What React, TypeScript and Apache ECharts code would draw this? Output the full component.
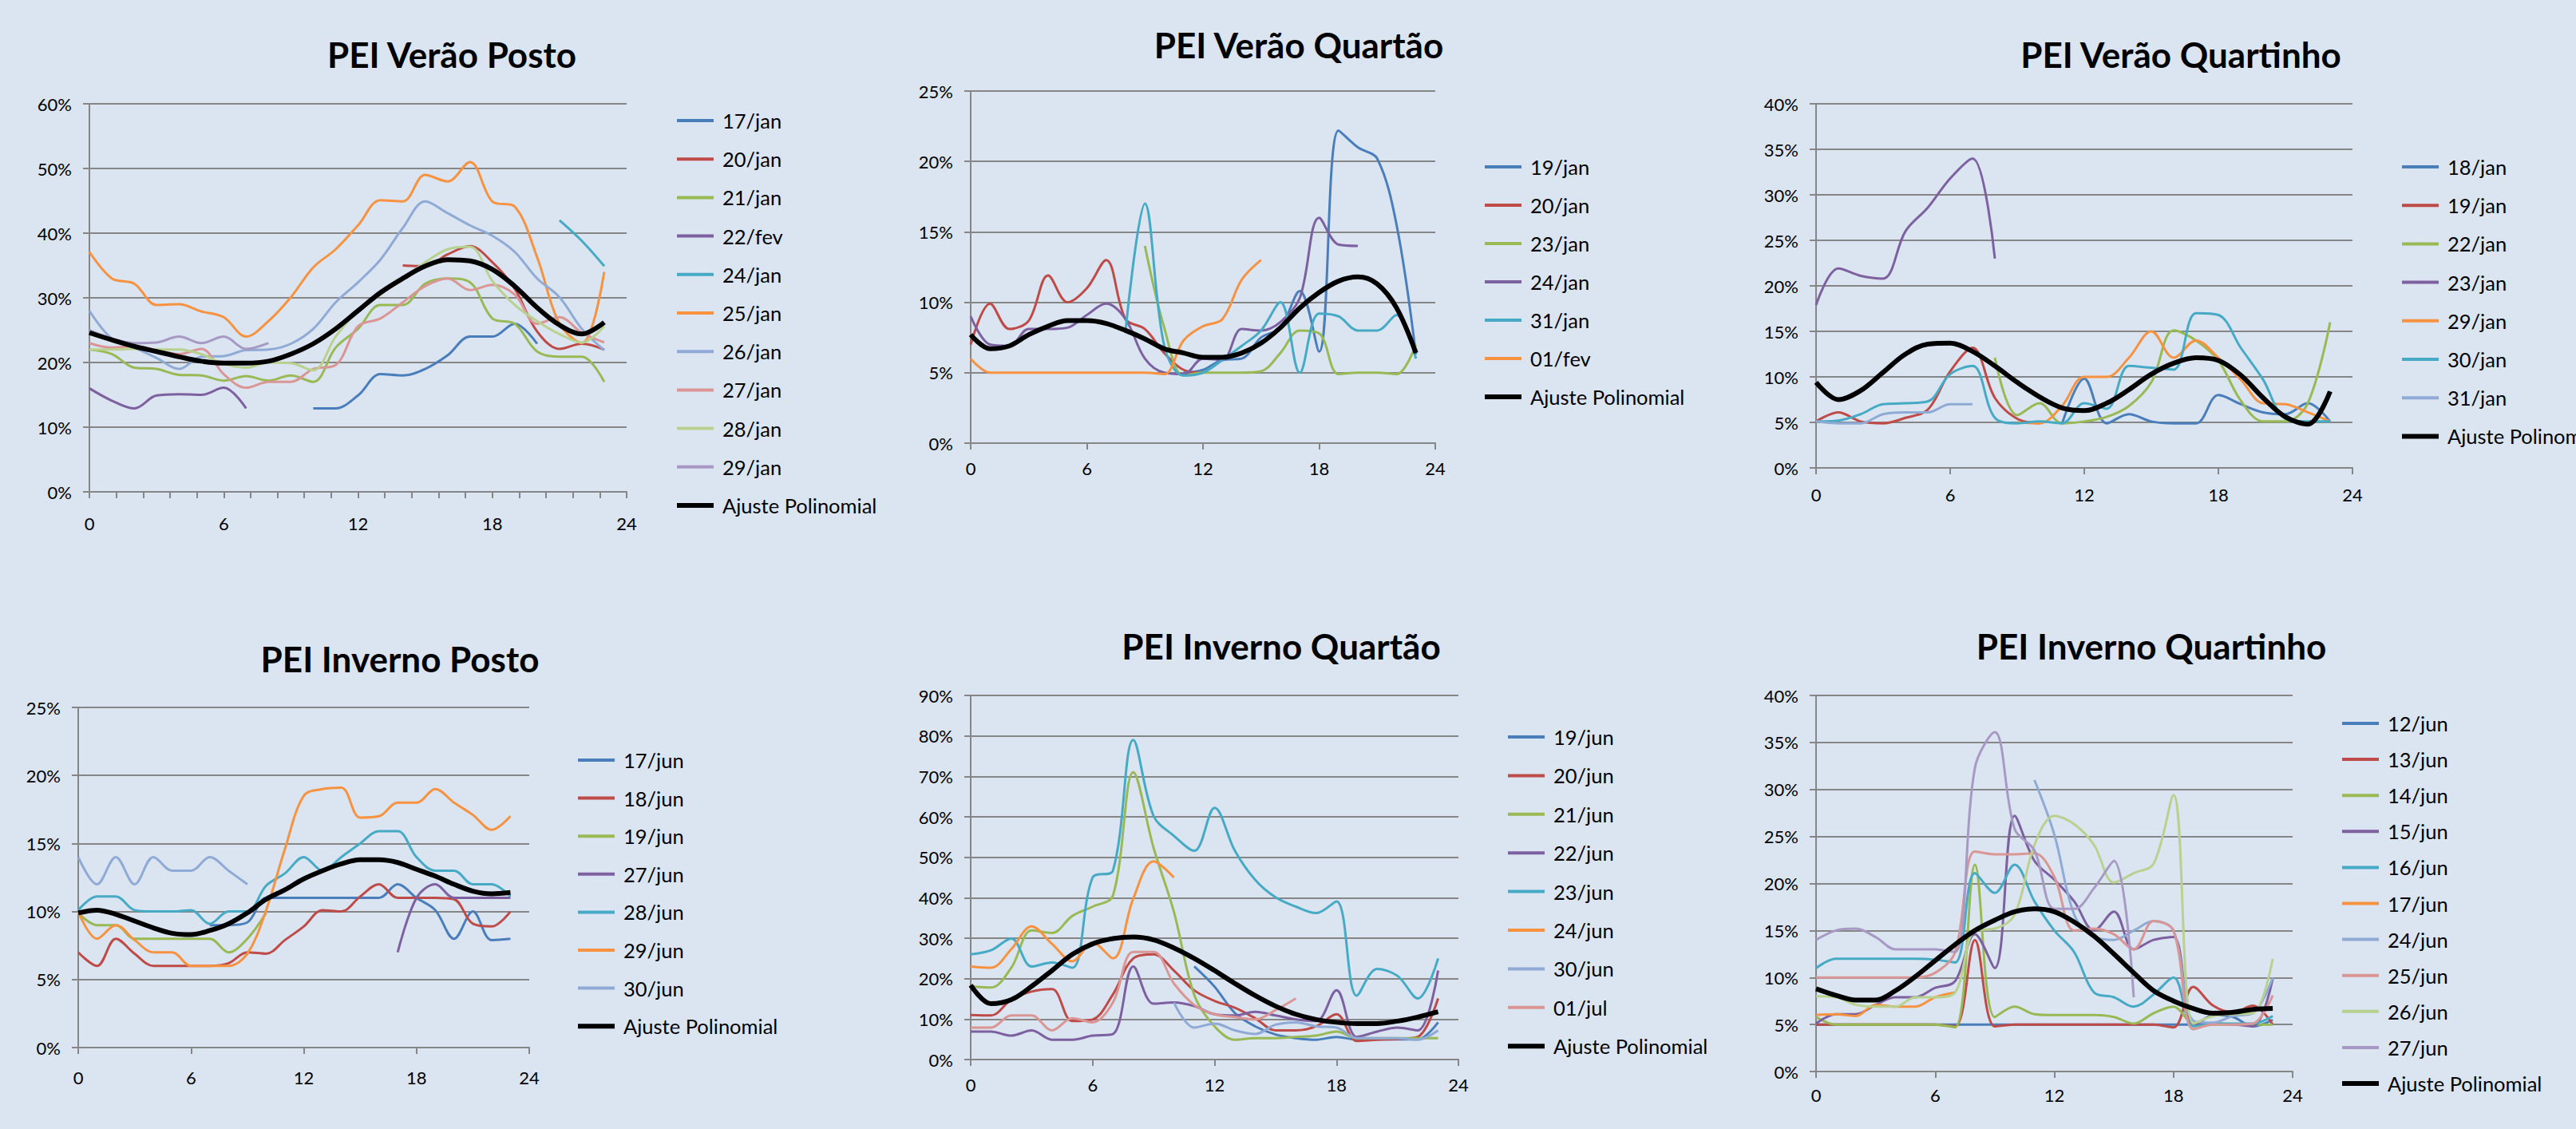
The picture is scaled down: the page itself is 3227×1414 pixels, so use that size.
import React, { useEffect, useRef } from "react";
import * as echarts from "echarts";

const _ = null;

// ---------- Panel 1: PEI Verão Posto ----------
const p1Names = ["17/jan", "20/jan", "21/jan", "22/fev", "24/jan", "25/jan", "26/jan", "27/jan", "28/jan", "29/jan", "Ajuste Polinomial"];
const v1_17jan = [_, _, _, _, _, _, _, _, _, _, 12.9, 12.9, 14.9, 18.2, 18, 19, 21.1, 24, 24, 26, 22.9, _, _, _];
const v1_20jan = [_, _, _, _, _, _, _, _, _, _, _, _, _, _, 35, 34.9, 36.7, 38, 35.5, 31.4, 24.8, 22.1, 22.9, 22];
const v1_21jan = [22, 21.3, 19.2, 19, 18.1, 18, 17.2, 17.9, 17.2, 18, 17, 22.3, 25.2, 28.9, 28.9, 32.2, 33, 32.4, 26.8, 26, 21.7, 20.9, 20.9, 17];
const v1_22fev = [16, 14.1, 12.9, 14.9, 15.1, 15, 16.1, 12.9, _, _, _, _, _, _, _, _, _, _, _, _, _, _, _, _];
const v1_24jan = [_, _, _, _, _, _, _, _, _, _, _, _, _, _, _, _, _, _, _, _, _, 42, 38.8, 34.9];
const v1_25jan = [37.1, 33, 32.2, 28.9, 29, 27.9, 27, 24, 26.4, 30.1, 34.7, 37.5, 41.2, 45.1, 44.9, 49, 48, 51, 44.9, 44.1, 36.3, 26, 23, 34];
const v1_26jan = [28, 23.7, 22.3, 20.7, 19, 20.9, 21, 21.9, 22, 22.9, 25.2, 29.3, 32.4, 35.9, 40.8, 44.9, 43.1, 41.2, 39.6, 37.1, 33, 30.1, 25.2, 21.9];
const v1_27jan = [23, 22.3, 22.5, 21.9, 21.3, 22.1, 18.2, 16.1, 17, 17, 19, 19.6, 25.6, 26.8, 29.3, 31.8, 33, 31.2, 32, 30.5, 26, 27, 24.6, 23.1];
const v1_28jan = [22, 22, 22.1, 22, 22, 21.3, 19.8, 19.2, 20, 19.9, 18.8, 24, 28, 30.5, 33, 35.5, 37.5, 37.9, 32.6, 28.9, 26.4, 24.4, 23.1, 25.6];
const v1_29jan = [25, 23.7, 23, 23.1, 24, 23, 24, 22.1, 23, _, _, _, _, _, _, _, _, _, _, _, _, _, _, _];
const v1_fit = [24.6, 23.5, 22.5, 21.7, 20.9, 20.2, 19.9, 19.9, 20.2, 21.3, 22.9, 25.2, 28, 30.8, 33, 34.9, 35.9, 35.7, 34.4, 31.8, 28.5, 25.8, 24.4, 26.2];

// ---------- Panel 2: PEI Verão Quartão ----------
const p2Names = ["19/jan", "20/jan", "23/jan", "24/jan", "31/jan", "01/fev", "Ajuste Polinomial"];
const v2_19jan = [_, _, _, _, _, _, _, _, _, _, _, 5, 5.2, 5.9, 6, 7.5, 8.2, 10.8, 6.5, 22.2, 21, 20.2, 15.5, 6.3];
const v2_20jan = [7, 9.9, 8.1, 8.7, 11.9, 10, 11, 13, 8.8, 8.1, 6.4, 5.2, 5, _, _, _, _, _, _, _, _, _, _, _];
const v2_23jan = [_, _, _, _, _, _, _, _, _, 14, 8.2, 4.8, 5, 5, 5, 5.1, 6.4, 8, 7.8, 4.9, 5, 5, 4.9, 7];
const v2_24jan = [9, 7, 6.9, 8.1, 8.1, 8.2, 9.1, 9.9, 8.8, 6, 5, 4.9, 6, 5.9, 8.1, 8, 8.6, 10.3, 16, 14.1, 14, _, _, _];
const v2_31jan = [_, _, _, _, _, _, _, _, 8, 17, 6.9, 4.8, 5, 5.9, 6.9, 8, 10, 5, 9.2, 9, 8, 8, 9.1, 6];
const v2_01fev = [6, 5, 5, 5, 5, 5, 5, 5, 5, 5, 4.9, 7.3, 8.3, 8.8, 11.6, 13, _, _, _, _, _, _, _, _];
const v2_fit = [7.7, 6.7, 6.9, 7.7, 8.3, 8.7, 8.7, 8.5, 8, 7.4, 6.7, 6.4, 6.1, 6.1, 6.4, 7.1, 8.2, 9.6, 10.7, 11.5, 11.8, 11.3, 9.6, 6.4];

// ---------- Panel 3: PEI Verão Quartinho ----------
const p3Names = ["18/jan", "19/jan", "22/jan", "23/jan", "29/jan", "30/jan", "31/jan", "Ajuste Polinomial"];
const v3_18jan = [_, _, _, _, _, _, _, _, _, _, _, 4.8, 9.8, 4.9, 5.9, 5.1, 4.9, 4.9, 8, 7, 6.1, 5.9, 7.1, 5.1];
const v3_19jan = [5.1, 6.1, 5.1, 4.9, 5.5, 6.4, 10.6, 13.2, 7.7, 5.4, 4.9, _, _, _, _, _, _, _, _, _, _, _, _, _];
const v3_22jan = [_, _, _, _, _, _, _, _, 12.1, 5.8, 7.1, 4.9, 5.1, 5.6, 6.8, 9.4, 15.1, 14, 11.8, 7.4, 5.1, 5.1, 7.1, 16];
const v3_23jan = [17.9, 21.9, 21.1, 20.8, 26, 28.6, 31.8, 34, 23, _, _, _, _, _, _, _, _, _, _, _, _, _, _, _];
const v3_29jan = [_, _, _, _, _, _, _, _, _, 5, 4.9, 6.8, 10, 10, 12.1, 15, 12.1, 14, 12.1, 9.7, 7.1, 7, 6.1, 5.1];
const v3_30jan = [5.1, 5.2, 5.9, 7, 7.1, 7.3, 10.3, 11.2, 5.5, 4.9, 5.1, 4.9, 7.1, 6.5, 11.2, 11, 10.8, 17, 16.8, 13.2, 9.7, 5.4, 5.1, 5.1];
const v3_31jan = [5.1, 4.9, 4.9, 5.9, 6.1, 6.1, 7, 7, _, _, _, _, _, _, _, _, _, _, _, _, _, _, _, _];
const v3_fit = [9.4, 7.5, 8.5, 10.5, 12.5, 13.6, 13.7, 12.8, 11.2, 9.4, 7.8, 6.6, 6.3, 7.1, 8.6, 10.3, 11.5, 12.1, 11.8, 10.2, 7.7, 5.6, 4.8, 8.4];

// ---------- Panel 4: PEI Inverno Posto ----------
const p4Names = ["17/jun", "18/jun", "19/jun", "27/jun", "28/jun", "29/jun", "30/jun", "Ajuste Polinomial"];
const v4_17jun = [_, _, _, _, _, _, _, 9, 9, 9.2, 11, 11, 11, 11, 11, 11, 11, 12, 11, 10.1, 8, 10, 7.9, 8];
const v4_18jun = [7, 6, 8, 6.9, 6, 6, 6, 6, 6.2, 7, 6.9, 7.9, 8.9, 10.1, 10, 11.1, 12, 11, 11, 11, 10.9, 9.1, 8.9, 10];
const v4_19jun = [9.9, 9, 9, 8, 8, 8, 8, 8, 7, 8, 9.9, _, _, _, _, _, _, _, _, _, _, _, _, _];
const v4_27jun = [_, _, _, _, _, _, _, _, _, _, _, _, _, _, _, _, _, 7, 11, 12, 11, 11, 11, 11];
const v4_28jun = [10.1, 11.1, 11.1, 10.1, 10, 10, 10.1, 9.1, 10, 10, 11.9, 12.8, 14, 13, 14, 15, 15.9, 15.9, 14, 13, 13, 12, 12, 11.1];
const v4_29jun = [10, 8, 9, 7.9, 7, 7, 6, 6, 6, 6.9, 10.1, 14.6, 18.5, 19, 19.1, 16.9, 17, 18, 18, 19, 18, 17.1, 16, 17];
const v4_30jun = [14, 12, 14, 12, 14, 13, 13, 14, 13, 12, _, _, _, _, _, _, _, _, _, _, _, _, _, _];
const v4_fit = [9.9, 10.1, 9.8, 9.3, 8.8, 8.4, 8.3, 8.6, 9.1, 9.9, 10.9, 11.6, 12.4, 13, 13.5, 13.8, 13.8, 13.6, 13.1, 12.6, 12, 11.5, 11.3, 11.4];

// ---------- Panel 5: PEI Inverno Quartão ----------
const p5Names = ["19/jun", "20/jun", "21/jun", "22/jun", "23/jun", "24/jun", "30/jun", "01/jul", "Ajuste Polinomial"];
const v5_19jun = [_, _, _, _, _, _, _, _, _, _, _, 23, 18, 11.5, 8.2, 6.2, 5.3, 4.9, 5.6, 4.9, 5, 5, 5, 9.2];
const v5_20jun = [11, 10.9, 14.8, 16.8, 17.4, 9.5, 9.9, 16.1, 25, 26, 22, 17.1, 14.5, 12.8, 10.2, 7.2, 7.2, 8.2, 11.2, 4.6, 4.9, 5.1, 5.6, 15.1];
const v5_21jun = [18.1, 17.8, 22.7, 31.9, 31.3, 35.5, 37.8, 40.5, 71, 52.3, 36.5, 16, 8.2, 4.9, 5.3, 5.3, 5.6, 5.9, 6.9, 5.3, 5.3, 5.3, 5.3, 5.3];
const v5_22jun = [6.9, 6.9, 5.9, 7.2, 4.9, 4.9, 5.9, 6.3, 23, 13.8, 14.1, 13.2, 11.2, 10.9, 11.8, 10.9, 9.9, 9.5, 17.1, 5.6, 6.9, 7.9, 7.2, 22];
const v5_23jun = [26, 27, 29.9, 23, 24, 22.7, 45, 46.7, 79, 60.2, 55.3, 51.6, 62.2, 51.6, 44.4, 40.1, 37.8, 36.2, 39.1, 15.8, 22.4, 20.7, 15.1, 25];
const v5_24jun = [23, 22.7, 27.3, 32.9, 28.6, 24.3, 28.9, 25, 39.8, 49, 45, _, _, _, _, _, _, _, _, _, _, _, _, _];
const v5_30jun = [_, _, _, _, _, _, _, _, _, _, 14.1, 7.9, 8.9, 7.2, 6.3, 8.6, 9.2, 8.2, 7.9, 5.3, 5.3, 5.3, 4.9, 7.2];
const v5_01jul = [7.9, 7.9, 10.9, 10.9, 7.2, 10.2, 9.2, 14.1, 26.6, 26.6, 18.8, 13.5, 11.2, 10.5, 9.9, 12.2, 15.1, _, _, _, _, _, _, _];
const v5_fit = [18.4, 13.8, 14.8, 18.1, 22, 26, 28.6, 29.9, 30.3, 29.6, 27.6, 25, 22, 18.8, 15.8, 13.2, 11.2, 9.9, 9.2, 8.9, 8.9, 9.5, 10.5, 11.8];

// ---------- Panel 6: PEI Inverno Quartinho ----------
const p6Names = ["12/jun", "13/jun", "14/jun", "15/jun", "16/jun", "17/jun", "24/jun", "25/jun", "26/jun", "27/jun", "Ajuste Polinomial"];
const v6_12jun = [5, 5, 5, 5, 5, 5, 5, 5, 5, 5, 5, 5, 5, 5, 5, 5, 5, 5, 5, 5, 6, 5.8, 4.8, 5.5];
const v6_13jun = [5, 5, 5, 5, 5, 5, 5, 4.8, 14, 4.8, 5, 5, 5, 5, 5, 5, 5, 5, 4.7, 9, 7, 6.3, 7, 5];
const v6_14jun = [5.8, 5, 5, 5, 5, 5, 5, 4.7, 22, 5.8, 6.9, 6.1, 6, 6, 6, 5.8, 5.1, 6.2, 6.9, 5.1, 5, 5, 5, 5];
const v6_15jun = [5.1, 6.1, 6.1, 7.1, 7.9, 7.9, 8.9, 9.6, 14.6, 11, 27.2, 22.4, 20.4, 18.1, 15, 17, 13, 14, 14.3, 5, 5.1, 5, 4.8, 9.9];
const v6_16jun = [11, 12, 12, 12, 12, 12, 11.9, 11.6, 21.1, 19, 22, 18.1, 15, 12.7, 8.4, 7.9, 6.9, 8.2, 10, 4.8, 5.1, 5.1, 5.1, 5.9];
const v6_17jun = [6, 6.1, 5.9, 7.1, 6.9, 6.9, 7.9, 8.4, _, _, _, _, _, _, _, _, _, _, _, _, _, _, _, _];
const v6_24jun = [_, _, _, _, _, _, _, _, _, _, _, 31, 25.2, 16.7, 14.3, 14, 15, 16, 15, 5.4, 5.2, 5.9, 6.2, 10];
const v6_25jun = [10, 10, 10, 10, 10, 10, 10.5, 12.7, 23.4, 23.1, 23.1, 23.2, 20.7, 15, 15.2, 14.6, 13, 16, 15, 4.5, 5, 5, 5.1, 8.1];
const v6_26jun = [8, 7.9, 7.1, 6.9, 6.9, 7.9, 7.9, 8.4, 15, 15.2, 16.7, 24.1, 27.2, 26.3, 24.1, 20.1, 21.1, 22.1, 29.4, 5.1, 5.9, 6.1, 6.2, 12];
const v6_27jun = [14, 15, 15.2, 14.3, 13, 13, 13, 12.7, 32.3, 36.1, 25.8, 23.5, 17.3, 17.3, 19.5, 22.4, 7.9, _, _, _, _, _, _, _];
const v6_fit = [8.8, 8.1, 7.6, 7.6, 8.6, 10.1, 11.8, 13.5, 15, 16.1, 17, 17.3, 17, 15.9, 14.4, 12.5, 10.5, 8.6, 7.5, 6.7, 6.2, 6.3, 6.6, 6.7];

// ---------- colours ----------
const C = {
  blue: "#4A7EBB",
  red: "#BE4B48",
  green: "#98B954",
  purple: "#7D60A0",
  teal: "#46AAC5",
  orange: "#F69240",
  lblue: "#8FAAD4",
  pink: "#D99694",
  lgreen: "#B9D18F",
  lpurple: "#A899C4",
  fit: "#000000",
};

const FONT = "Lato, 'Open Sans', 'Liberation Sans', sans-serif";
const BG = "#DBE5F1";
const GRID_COLOR = "#868686";

const panels = [
  {
    title: "PEI Verão Posto",
    names: p1Names,
    values: [v1_17jan, v1_20jan, v1_21jan, v1_22fev, v1_24jan, v1_25jan, v1_26jan, v1_27jan, v1_28jan, v1_29jan, v1_fit],
    colors: [C.blue, C.red, C.green, C.purple, C.teal, C.orange, C.lblue, C.pink, C.lgreen, C.lpurple, C.fit],
    yMax: 60, yStep: 10,
    grid: { left: 112, top: 130, width: 673, height: 486 },
    titlePos: [566, 68],
    legend: { left: 840, top: 131, gap: 18.2 },
    minor: true, xMargin: 28,
  },
  {
    title: "PEI Verão Quartão",
    names: p2Names,
    values: [v2_19jan, v2_20jan, v2_23jan, v2_24jan, v2_31jan, v2_01fev, v2_fit],
    colors: [C.blue, C.red, C.green, C.purple, C.teal, C.orange, C.fit],
    yMax: 25, yStep: 5,
    grid: { left: 1216, top: 114, width: 582, height: 441 },
    titlePos: [1627, 56],
    legend: { left: 1852, top: 189, gap: 18 },
    minor: false, xMargin: 20,
  },
  {
    title: "PEI Verão Quartinho",
    names: p3Names,
    values: [v3_18jan, v3_19jan, v3_22jan, v3_23jan, v3_29jan, v3_30jan, v3_31jan, v3_fit],
    colors: [C.blue, C.red, C.green, C.purple, C.orange, C.teal, C.lblue, C.fit],
    yMax: 40, yStep: 5,
    grid: { left: 2275, top: 130, width: 672, height: 456 },
    titlePos: [2732, 68],
    legend: { left: 3001, top: 189, gap: 18.2 },
    minor: false, xMargin: 22,
  },
  {
    title: "PEI Inverno Posto",
    names: p4Names,
    values: [v4_17jun, v4_18jun, v4_19jun, v4_27jun, v4_28jun, v4_29jun, v4_30jun, v4_fit],
    colors: [C.blue, C.red, C.green, C.purple, C.teal, C.orange, C.lblue, C.fit],
    yMax: 25, yStep: 5,
    grid: { left: 98, top: 886, width: 565, height: 426 },
    titlePos: [501, 825],
    legend: { left: 716, top: 932, gap: 17.6 },
    minor: false, xMargin: 26,
  },
  {
    title: "PEI Inverno Quartão",
    names: p5Names,
    values: [v5_19jun, v5_20jun, v5_21jun, v5_22jun, v5_23jun, v5_24jun, v5_30jun, v5_01jul, v5_fit],
    colors: [C.blue, C.red, C.green, C.purple, C.teal, C.orange, C.lblue, C.pink, C.fit],
    yMax: 90, yStep: 10,
    grid: { left: 1216, top: 871, width: 611, height: 456 },
    titlePos: [1605, 809],
    legend: { left: 1881, top: 903, gap: 18.4 },
    minor: false, xMargin: 20,
  },
  {
    title: "PEI Inverno Quartinho",
    names: p6Names,
    values: [v6_12jun, v6_13jun, v6_14jun, v6_15jun, v6_16jun, v6_17jun, v6_24jun, v6_25jun, v6_26jun, v6_27jun, v6_fit],
    colors: [C.blue, C.red, C.green, C.purple, C.teal, C.orange, C.lblue, C.pink, C.lgreen, C.lpurple, C.fit],
    yMax: 40, yStep: 5,
    grid: { left: 2275, top: 871, width: 597, height: 471 },
    titlePos: [2695, 809],
    legend: { left: 2926, top: 886, gap: 15.1 },
    minor: false, xMargin: 18,
  },
];

function buildOption() {
  const grid: any[] = [];
  const xAxis: any[] = [];
  const yAxis: any[] = [];
  const series: any[] = [];
  const legend: any[] = [];
  const graphic: any[] = [];

  panels.forEach((p, i) => {
    grid.push({ ...p.grid, containLabel: false });
    xAxis.push({
      type: "value",
      gridIndex: i,
      min: 0,
      max: 24,
      interval: 6,
      axisLine: { show: true, onZero: false, lineStyle: { color: GRID_COLOR, width: 2 } },
      axisTick: { show: true, length: 8, lineStyle: { color: GRID_COLOR, width: 2 } },
      minorTick: { show: p.minor, splitNumber: 5, length: 8, lineStyle: { color: GRID_COLOR, width: 2 } },
      splitLine: { show: false },
      axisLabel: { fontSize: 22, color: "#000", fontFamily: FONT, margin: p.xMargin },
    });
    yAxis.push({
      type: "value",
      gridIndex: i,
      min: 0,
      max: p.yMax,
      interval: p.yStep,
      axisLine: { show: true, lineStyle: { color: GRID_COLOR, width: 2 } },
      axisTick: { show: true, length: 8, lineStyle: { color: GRID_COLOR, width: 2 } },
      splitLine: { show: true, lineStyle: { color: GRID_COLOR, width: 2 } },
      axisLabel: { fontSize: 22, color: "#000", fontFamily: FONT, margin: 22, formatter: "{value}%" },
    });

    const legendData: any[] = [];
    p.names.forEach((name, j) => {
      const id = `${name}#${i}`;
      const isFit = name === "Ajuste Polinomial";
      legendData.push({
        name: id,
        lineStyle: { color: p.colors[j], width: isFit ? 6 : 4 },
        itemStyle: { opacity: 0, borderWidth: 0 },
      });
      const data = p.values[j]
        .map((v, h) => (v === null ? null : [h, v]))
        .filter((d) => d !== null);
      series.push({
        type: "line",
        name: id,
        xAxisIndex: i,
        yAxisIndex: i,
        data,
        smooth: 0.35,
        symbol: "none",
        showSymbol: false,
        z: isFit ? 5 : 3,
        lineStyle: { color: p.colors[j], width: isFit ? 6 : 3 },
        itemStyle: { color: p.colors[j] },
        emphasis: { disabled: true },
      });
    });

    legend.push({
      orient: "vertical",
      left: p.legend.left,
      top: p.legend.top,
      itemWidth: 46,
      itemHeight: 14,
      itemGap: p.legend.gap,
      selectedMode: false,
      data: legendData,
      itemStyle: { opacity: 0, borderWidth: 0 },
      formatter: (n: string) => n.split("#")[0],
      textStyle: { fontSize: 25.5, color: "#000", fontFamily: FONT, lineHeight: 30, padding: [0, 0, 0, 6] },
    });

    graphic.push({
      type: "text",
      x: p.titlePos[0],
      y: p.titlePos[1],
      style: {
        text: p.title,
        fontSize: 44,
        fontWeight: "bold",
        fontFamily: FONT,
        fill: "#000",
        align: "center",
        verticalAlign: "middle",
      },
    });
  });

  return {
    animation: false,
    backgroundColor: BG,
    grid,
    xAxis,
    yAxis,
    series,
    legend,
    graphic,
    tooltip: { show: false },
  };
}

export default function App() {
  const ref = useRef<HTMLDivElement>(null);
  useEffect(() => {
    document.body.style.margin = "0";
    document.body.style.background = BG;
    if (!ref.current) return;
    const chart = echarts.init(ref.current, undefined, { renderer: "svg", width: 3227, height: 1414 });
    chart.setOption(buildOption() as any);
    return () => chart.dispose();
  }, []);
  return (
    <div
      ref={ref}
      style={{ position: "fixed", left: 0, top: 0, width: 3227, height: 1414, background: BG }}
    />
  );
}
